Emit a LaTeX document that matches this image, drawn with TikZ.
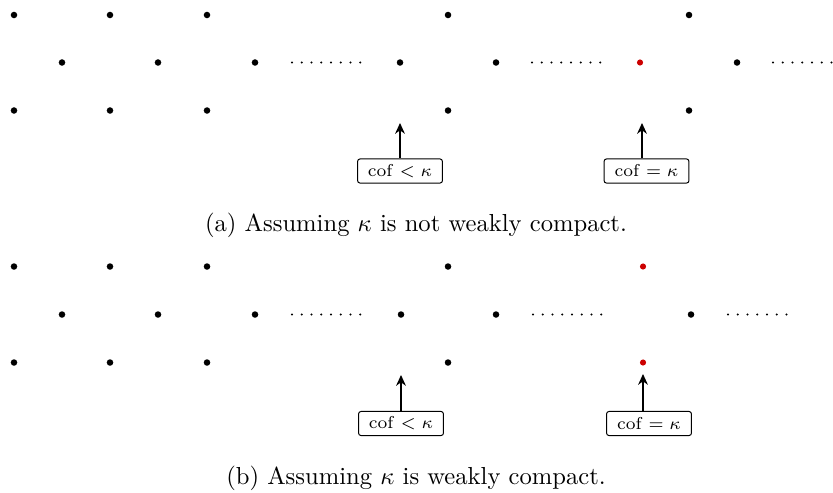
\documentclass[tikz,border=0pt]{standalone}
\usetikzlibrary{arrows.meta}
\definecolor{dotred}{RGB}{204,0,0}
\begin{document}
\begin{tikzpicture}[x=0.4065pt,y=-0.4065pt,
  pt/.style={circle,fill=black,inner sep=0pt,minimum size=2.65pt},
  rpt/.style={pt,fill=dotred,minimum size=2.5pt},
  cofbox/.style={draw,rounded corners=1pt,line width=0.4pt,minimum width=34.5pt,minimum height=9.8pt,inner sep=0pt,font=\fontsize{6.6}{7.5}\selectfont},
  ptr/.style={-{Stealth[length=4.4pt,width=4pt]},line width=0.45pt},
  dotrun/.style={line width=0.9pt,line cap=round,dash pattern=on 0pt off 3.96pt},
  captext/.style={inner sep=0pt,font=\fontsize{10}{12}\selectfont}]
\useasboundingbox (0,0) rectangle (833,492);

% ---------- panel (a) ----------
\foreach \x [count=\i] in {14,110,207,448,689} {
  \node[pt] (aT\i) at (\x,15) {};
  \node[pt] (aB\i) at (\x,110.5) {};
}
\foreach \x [count=\i] in {62,158,255,400,496,737} {
  \node[pt] (aM\i) at (\x,62.5) {};
}
\node[rpt] (aR) at (640,62.5) {};
\draw[dotrun] (292,62.5) -- ++(68.5,0);
\draw[dotrun] (532,62.5) -- ++(68.5,0);
\draw[dotrun] (773,62.5) -- ++(58.8,0);

\node[cofbox] (aBox1) at (400,171) {$\mathrm{cof}<\kappa$};
\node[cofbox] (aBox2) at (646.5,171) {$\mathrm{cof}=\kappa$};
\coordinate (aTip1) at (400,123);
\coordinate (aTip2) at (642,123);
\draw[ptr] (aBox1.north -| aTip1) -- (aTip1);
\draw[ptr] (aBox2.north -| aTip2) -- (aTip2);

\node[captext] (capA) at (416,225) {(a) Assuming $\kappa$ is not weakly compact.};

% ---------- panel (b) ----------
\foreach \x [count=\i] in {14,110,207,448} {
  \node[pt] (bT\i) at (\x,266.5) {};
  \node[pt] (bB\i) at (\x,362.5) {};
}
\node[rpt] (bRT) at (643,266.5) {};
\node[rpt] (bRB) at (643,362.5) {};
\foreach \x [count=\i] in {62,158,255,401,496,691} {
  \node[pt] (bM\i) at (\x,314.5) {};
}
\draw[dotrun] (292,314.5) -- ++(68.5,0);
\draw[dotrun] (533,314.5) -- ++(68.5,0);
\draw[dotrun] (728,314.5) -- ++(58.8,0);

\node[cofbox] (bBox1) at (401,423.5) {$\mathrm{cof}<\kappa$};
\node[cofbox] (bBox2) at (649,423.5) {$\mathrm{cof}=\kappa$};
\coordinate (bTip1) at (401,375);
\coordinate (bTip2) at (643,374);
\draw[ptr] (bBox1.north -| bTip1) -- (bTip1);
\draw[ptr] (bBox2.north -| bTip2) -- (bTip2);

\node[captext] (capB) at (416,478) {(b) Assuming $\kappa$ is weakly compact.};
\end{tikzpicture}
\end{document}
